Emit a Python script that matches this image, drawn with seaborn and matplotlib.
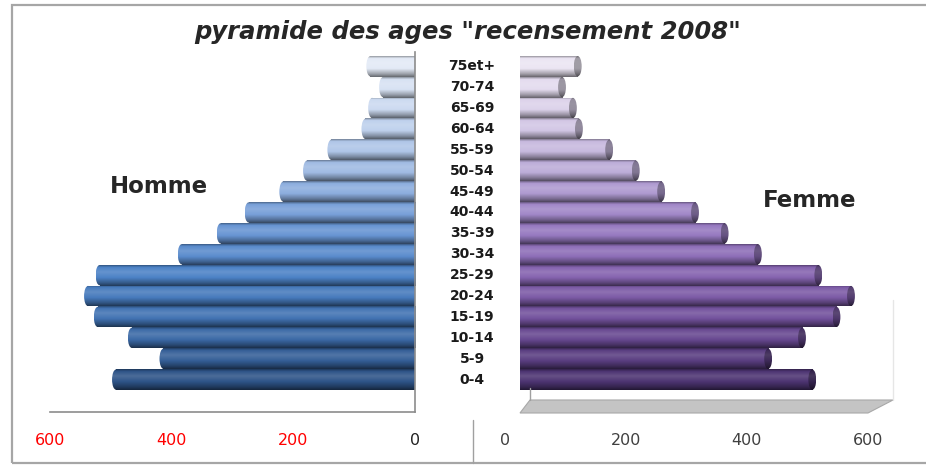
import numpy as np
import pandas as pd
import matplotlib
matplotlib.use('Agg')
import matplotlib.pyplot as plt
import matplotlib.transforms as mtransforms
from matplotlib.patches import Ellipse, Rectangle, Polygon
import seaborn as sns

# Data
ages = ['0-4', '5-9', '10-14', '15-19', '20-24', '25-29', '30-34', '35-39',
        '40-44', '45-49', '50-54', '55-59', '60-64', '65-69', '70-74', '75et+']
homme = [498, 420, 472, 528, 544, 525, 390, 326, 280, 223, 184, 144, 88, 77, 59, 80]
femme = [490, 417, 473, 530, 554, 500, 400, 345, 296, 240, 198, 154, 104, 94, 76, 102]
left_ticks = [600, 400, 200, 0]
right_ticks = [0, 200, 400, 600]

df = pd.DataFrame({'age': ages, 'homme': homme, 'femme': femme})
order = ages[::-1]  # 75et+ at the top

sns.set_style('white')
plt.rcParams['font.family'] = ['DejaVu Sans']

blue_pal = sns.blend_palette(['#e3eaf6', '#c6d6ef', '#a0bbe3', '#6e99d6',
                              '#4c82c6', '#3f6fae', '#2e5488'], 16)
purple_pal = sns.blend_palette(['#ebe5f3', '#d8cde8', '#bcacd8', '#9a7ec4',
                                '#8563af', '#6e4d98', '#4d3472'], 16)

W, H = 926, 465
fig = plt.figure(figsize=(W / 100, H / 100), dpi=100)


def box(x0, y0, x1, y1):
    return [x0 / W, 1 - y1 / H, (x1 - x0) / W, (y1 - y0) / H]


axL = fig.add_axes(box(50, 52, 415, 412))
axR = fig.add_axes(box(520, 52, 893, 412))
for ax in (axL, axR):
    ax.set_facecolor('none')

sns.barplot(data=df, y='age', x='homme', hue='age', order=order, hue_order=order,
            palette=blue_pal, orient='h', width=1.0, saturation=1, legend=False, ax=axL)
sns.barplot(data=df, y='age', x='femme', hue='age', order=order, hue_order=order,
            palette=purple_pal, orient='h', width=1.0, saturation=1, legend=False, ax=axR)


def shade(rgb, n=64):
    # cylinder look: dark top rim, highlight above centre, dark lower side
    t = np.linspace(0, 1, n)
    f = np.interp(t, [0, 0.1, 0.33, 0.6, 0.85, 1.0], [-0.35, 0.0, 0.14, 0.0, -0.3, -0.55])[:, None]
    c = np.array(rgb)[None, :]
    out = np.where(f > 0, c + (1 - c) * f, c * (1 + f))
    return np.clip(out, 0, 1)[:, None, :]


def cylinders(ax, pal, cap_dark):
    cap = 13
    for p in list(ax.patches):
        x0, y0, w, h = p.get_x(), p.get_y(), p.get_width(), p.get_height()
        if w <= 0:
            continue
        img = shade(pal[int(round(y0 + h / 2))])
        p.set_width(w - cap / 2)
        p.set_facecolor('none')
        p.set_edgecolor('none')
        im = ax.imshow(img, extent=(x0, x0 + w - cap / 2, y0 + h, y0), aspect='auto',
                       interpolation='bilinear', zorder=2)
        im.set_clip_path(p)
        ell = Ellipse((x0 + w - cap / 2, y0 + h / 2), cap, h * 0.97, facecolor='none', edgecolor='none')
        ax.add_patch(ell)
        im2 = ax.imshow(img * cap_dark, extent=(x0 + w - cap, x0 + w, y0 + h, y0), aspect='auto',
                        interpolation='bilinear', zorder=2)
        im2.set_clip_path(ell)


cylinders(axL, blue_pal, 1.0)
cylinders(axR, purple_pal, 0.68)

# left panel
axL.set_xlim(600, 0)
axL.set_ylim(16.55, -0.68)
axL.set_xticks(left_ticks)
axL.set_xticklabels([str(v) for v in left_ticks])
for lbl, c in zip(axL.get_xticklabels(), ['#ff0000', '#ff0000', '#ff0000', '#222222']):
    lbl.set_color(c)
axL.tick_params(axis='x', length=0, pad=15, labelsize=11.5)
axL.set_yticks([])
axL.set_xlabel('')
axL.set_ylabel('')
for s in ['left', 'top']:
    axL.spines[s].set_visible(False)
for s in ['right', 'bottom']:
    axL.spines[s].set_color('#8c8c8c')
    axL.spines[s].set_linewidth(1.2)
axL.spines['right'].set_zorder(5)

# right panel
axR.set_xlim(0, 617)
axR.set_ylim(16.55, -0.68)
axR.set_xticks(right_ticks)
axR.set_xticklabels([str(v) for v in right_ticks])
axR.tick_params(axis='x', length=0, pad=15, labelsize=11.5, labelcolor='#404040')
shift = mtransforms.ScaledTranslation(-15 / 100, 0, fig.dpi_scale_trans)
for lbl in axR.get_xticklabels():
    lbl.set_transform(lbl.get_transform() + shift)
axR.set_yticks([])
axR.set_xlabel('')
axR.set_ylabel('')
for s in axR.spines.values():
    s.set_visible(False)

# 3D floor under the right panel
fig.patches.append(Polygon([(520 / W, 1 - 413 / H), (868 / W, 1 - 413 / H),
                            (893 / W, 1 - 400 / H), (530 / W, 1 - 400 / H)],
                           closed=True, transform=fig.transFigure,
                           facecolor='#c4c4c4', edgecolor='#a8a8a8', lw=0.8, zorder=0))
fig.add_artist(plt.Line2D([893 / W, 893 / W], [1 - 400 / H, 1 - 300 / H],
                          transform=fig.transFigure, color='#e6e6e6', lw=1))
fig.add_artist(plt.Line2D([530 / W, 530 / W], [1 - 400 / H, 1 - 388 / H],
                          transform=fig.transFigure, color='#a0a0a0', lw=1))

# age labels between the panels
trans = mtransforms.blended_transform_factory(fig.transFigure, axL.transData)
for i, a in enumerate(order):
    fig.text(472 / W, i, a, transform=trans, ha='center', va='center',
             fontsize=10, fontweight='bold', color='#1a1a1a')

fig.text(468 / W, 1 - 32 / H, 'pyramide des ages "recensement 2008"', ha='center', va='center',
         fontsize=17.5, fontweight='bold', fontstyle='italic')
fig.text(159 / W, 1 - 186 / H, 'Homme', ha='center', va='center', fontsize=16.5, fontweight='bold')
fig.text(810 / W, 1 - 200 / H, 'Femme', ha='center', va='center', fontsize=16.5, fontweight='bold')

# outer frame
fig.patches.append(Rectangle((12 / W, 1 - 463 / H), 1.0, (463 - 5) / H, transform=fig.transFigure,
                             fill=False, edgecolor='#a6a6a6', lw=1.6, zorder=0))
fig.add_artist(plt.Line2D([473 / W, 473 / W], [1 - 463 / H, 1 - 420 / H],
                          transform=fig.transFigure, color='#a0a0a0', lw=1))

fig.savefig('out.png', dpi=100, facecolor='white')
